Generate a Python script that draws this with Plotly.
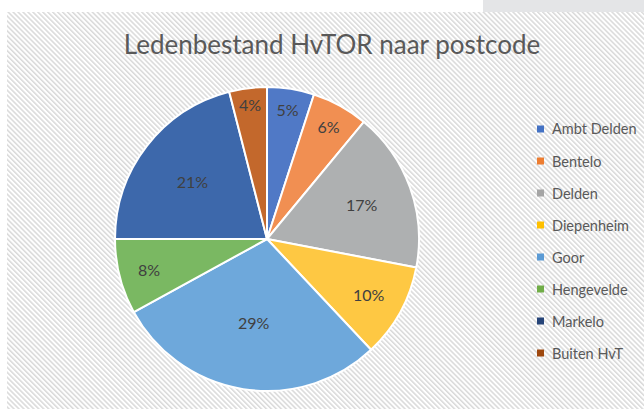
import base64
import plotly.graph_objects as go

labels = ["Ambt Delden", "Bentelo", "Delden", "Diepenheim", "Goor", "Hengevelde", "Markelo", "Buiten HvT"]
values = [5, 6, 17, 10, 29, 8, 21, 4]
colors = ["#5079C6", "#F18F52", "#AEB0B1", "#FEC843", "#6EA8DB", "#7AB862", "#3D68AB", "#C3682C"]
legend_colors = ["#4472C4", "#ED7D31", "#A5A5A5", "#FFC000", "#5B9BD5", "#70AD47", "#264478", "#9E480E"]
title_text = "Ledenbestand HvTOR naar postcode"

W, H = 644, 409
FONT = "Lato, Open Sans, sans-serif"

svg = ('<svg xmlns="http://www.w3.org/2000/svg" width="637" height="397">'
       '<defs><pattern id="p" width="3.5" height="3.5" patternUnits="userSpaceOnUse" patternTransform="rotate(-45)">'
       '<rect width="3.5" height="3.5" fill="#ffffff"/><rect width="1.5" height="3.5" fill="#d9d9d9"/></pattern></defs>'
       '<rect width="637" height="397" fill="url(#p)"/></svg>')
hatch_src = "data:image/svg+xml;base64," + base64.b64encode(svg.encode()).decode()

fig = go.Figure()
fig.add_trace(go.Pie(
    labels=labels, values=values, sort=False, direction="clockwise", rotation=0,
    marker=dict(colors=colors, line=dict(color="white", width=2)),
    textinfo="percent", textposition="inside", insidetextorientation="horizontal",
    textfont=dict(family=FONT, size=16, color="#404040"),
    domain=dict(x=[115 / W, 419 / W], y=[(H - 391) / H, (H - 87) / H]),
    showlegend=False, hoverinfo="label+percent",
))

shapes = [
    dict(type="rect", xref="paper", yref="paper", x0=483 / W, x1=1, y0=1 - 12 / H, y1=1,
         fillcolor="#E4E5E7", line=dict(width=0), layer="below"),
]
annotations = []
for i, (lab, col) in enumerate(zip(labels, legend_colors)):
    yc = 129 + 32 * i
    shapes.append(dict(type="rect", xref="paper", yref="paper",
                       x0=537 / W, x1=544 / W, y0=1 - (yc + 3.5) / H, y1=1 - (yc - 3.5) / H,
                       fillcolor=col, line=dict(width=0)))
    annotations.append(dict(text=lab, xref="paper", yref="paper", x=550 / W, y=1 - yc / H,
                            xanchor="left", yanchor="middle", showarrow=False,
                            font=dict(family=FONT, size=14.5, color="#595959")))

fig.update_layout(
    width=W, height=H, margin=dict(l=0, r=0, t=0, b=0),
    paper_bgcolor="white", plot_bgcolor="white",
    title=dict(text=title_text, x=332 / W, y=1 - 45 / H, xanchor="center", yanchor="middle",
               font=dict(family=FONT, size=26, color="#595959")),
    images=[dict(source=hatch_src, xref="paper", yref="paper", x=7 / W, y=1 - 12 / H,
                 sizex=637 / W, sizey=397 / H, xanchor="left", yanchor="top",
                 sizing="stretch", layer="below")],
    shapes=shapes, annotations=annotations,
)

fig.write_html("out.html", config={"displayModeBar": False})
with open("out.html", encoding="utf-8") as f:
    html = f.read()
html = html.replace("<head>", "<head><style>html,body{margin:0;padding:0;overflow:hidden;}</style>", 1)
with open("out.html", "w", encoding="utf-8") as f:
    f.write(html)
